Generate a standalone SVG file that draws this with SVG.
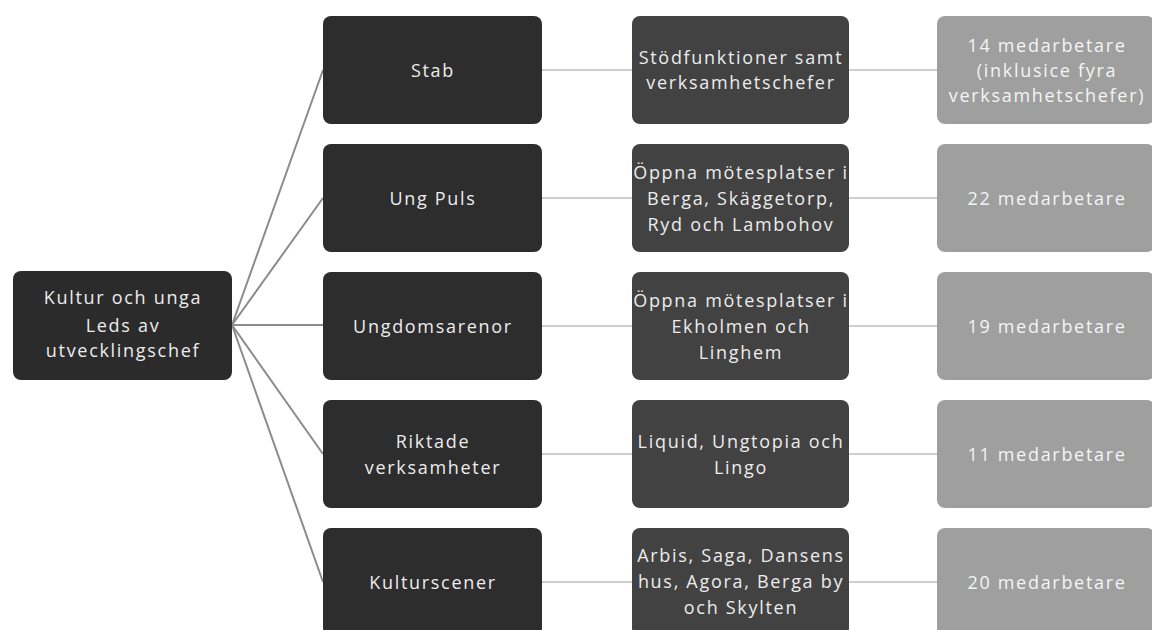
<svg xmlns="http://www.w3.org/2000/svg" width="1152" height="630" viewBox="0 0 1152 630">
<style>
.t{font-family:"Open Sans","Noto Sans","DejaVu Sans",sans-serif;font-size:18px;letter-spacing:1.7px;text-anchor:middle;dominant-baseline:central;fill:#ececec}
.t4{fill:#f4f4f4}
.r0{fill:#2b2b2b}
.r2{fill:#2d2d2d}
.r3{fill:#424242}
.r4{fill:#9f9f9f}
.c1{stroke:#8c8c8c;stroke-width:2;fill:none}
.c2{stroke:#cfcfcf;stroke-width:2;fill:none}
</style>
<rect width="1152" height="630" fill="#ffffff"/>
<g id="connectors">
<path class="c1" d="M232 325L323 70M232 325L323 198M232 325L323 325M232 325L323 454M232 325L323 582"/>
<path class="c2" d="M542 70H632M849 70H937M542 198H632M849 198H937M542 326H632M849 326H937M542 454H632M849 454H937M542 582H632M849 582H937"/>
</g>
<g id="root">
<rect class="r0" x="13" y="271" width="219" height="109" rx="8"/>
<text class="t" x="123" y="297">Kultur och unga</text>
<text class="t" x="123" y="325">Leds av</text>
<text class="t" x="123" y="350">utvecklingschef</text>
</g>
<g id="stab">
<rect class="r2" x="323" y="16" width="219" height="108" rx="8"/>
<text class="t" x="433" y="70">Stab</text>
</g>
<g id="ungpuls">
<rect class="r2" x="323" y="144" width="219" height="108" rx="8"/>
<text class="t" x="433" y="198">Ung Puls</text>
</g>
<g id="ungdomsarenor">
<rect class="r2" x="323" y="272" width="219" height="108" rx="8"/>
<text class="t" x="433" y="326">Ungdomsarenor</text>
</g>
<g id="riktade">
<rect class="r2" x="323" y="400" width="219" height="108" rx="8"/>
<text class="t" x="433" y="441">Riktade</text>
<text class="t" x="433" y="467">verksamheter</text>
</g>
<g id="kulturscener">
<rect class="r2" x="323" y="528" width="219" height="108" rx="8"/>
<text class="t" x="433" y="582">Kulturscener</text>
</g>
<g id="stod">
<rect class="r3" x="632" y="16" width="217" height="108" rx="8"/>
<text class="t" x="741" y="57">Stödfunktioner samt</text>
<text class="t" x="741" y="82">verksamhetschefer</text>
</g>
<g id="berga">
<rect class="r3" x="632" y="144" width="217" height="108" rx="8"/>
<text class="t" x="741" y="172">Öppna mötesplatser i</text>
<text class="t" x="741" y="198">Berga, Skäggetorp,</text>
<text class="t" x="741" y="224">Ryd och Lambohov</text>
</g>
<g id="ekholmen">
<rect class="r3" x="632" y="272" width="217" height="108" rx="8"/>
<text class="t" x="741" y="300">Öppna mötesplatser i</text>
<text class="t" x="741" y="326">Ekholmen och</text>
<text class="t" x="741" y="352">Linghem</text>
</g>
<g id="liquid">
<rect class="r3" x="632" y="400" width="217" height="108" rx="8"/>
<text class="t" x="741" y="441">Liquid, Ungtopia och</text>
<text class="t" x="741" y="467">Lingo</text>
</g>
<g id="arbis">
<rect class="r3" x="632" y="528" width="217" height="108" rx="8"/>
<text class="t" x="741" y="555">Arbis, Saga, Dansens</text>
<text class="t" x="741" y="581">hus, Agora, Berga by</text>
<text class="t" x="741" y="607">och Skylten</text>
</g>
<g id="n14">
<rect class="r4" x="937" y="16" width="218" height="108" rx="8"/>
<text class="t t4" x="1047" y="45">14 medarbetare</text>
<text class="t t4" x="1047" y="70">(inklusice fyra</text>
<text class="t t4" x="1047" y="95">verksamhetschefer)</text>
</g>
<g id="n22">
<rect class="r4" x="937" y="144" width="218" height="108" rx="8"/>
<text class="t t4" x="1047" y="198">22 medarbetare</text>
</g>
<g id="n19">
<rect class="r4" x="937" y="272" width="218" height="108" rx="8"/>
<text class="t t4" x="1047" y="326">19 medarbetare</text>
</g>
<g id="n11">
<rect class="r4" x="937" y="400" width="218" height="108" rx="8"/>
<text class="t t4" x="1047" y="454">11 medarbetare</text>
</g>
<g id="n20">
<rect class="r4" x="937" y="528" width="218" height="108" rx="8"/>
<text class="t t4" x="1047" y="582">20 medarbetare</text>
</g>
</svg>
